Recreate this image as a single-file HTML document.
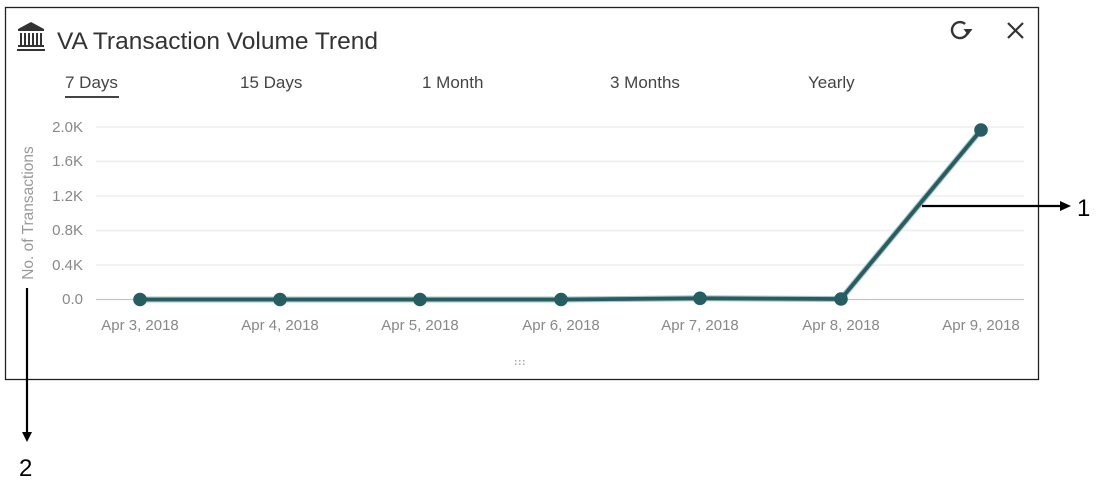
<!DOCTYPE html>
<html><head><meta charset="utf-8"><style>
html,body{margin:0;padding:0;background:#fff;}
body{width:1108px;height:494px;overflow:hidden;position:relative;font-family:"Liberation Sans",sans-serif;}
svg{position:absolute;left:0;top:0;}
</style></head><body>
<svg width="1108" height="494" viewBox="0 0 1108 494" xmlns="http://www.w3.org/2000/svg">
<rect x="5.5" y="7.5" width="1033" height="372" fill="#fff" stroke="#222" stroke-width="1.3"/>
<!-- bank icon -->
<g fill="#333">
<polygon points="31,22 18,29 44,29"/>
<rect x="18" y="29" width="26" height="2"/>
<rect x="20" y="33" width="2" height="12"/>
<rect x="24" y="33" width="2" height="12"/>
<rect x="28" y="33" width="2" height="12"/>
<rect x="32" y="33" width="2" height="12"/>
<rect x="36" y="33" width="2" height="12"/>
<rect x="40" y="33" width="2" height="12"/>
<rect x="18" y="45" width="26" height="2"/>
<rect x="17" y="49" width="28" height="2"/>
</g>
<text x="57" y="49" font-size="24.5" fill="#333">VA Transaction Volume Trend</text>
<!-- refresh -->
<path d="M968 30 A8 8 0 1 1 965.1 23.9" fill="none" stroke="#333" stroke-width="2.4"/>
<polygon points="963.5,29 972.5,29 968,35" fill="#333"/>
<!-- close -->
<path d="M1008 23 L1023 38 M1023 23 L1008 38" stroke="#333" stroke-width="2.2"/>
<!-- tabs -->
<g font-size="17" fill="#444">
<text x="65" y="88">7 Days</text>
<text x="240" y="88">15 Days</text>
<text x="422" y="88">1 Month</text>
<text x="610" y="88">3 Months</text>
<text x="808" y="88">Yearly</text>
</g>
<rect x="65" y="96" width="54" height="2" fill="#444"/>
<!-- gridlines -->
<g stroke="#eceef0" stroke-width="1.5">
<line x1="96" y1="127" x2="1024" y2="127"/>
<line x1="96" y1="161.5" x2="1024" y2="161.5"/>
<line x1="96" y1="196" x2="1024" y2="196"/>
<line x1="96" y1="230.5" x2="1024" y2="230.5"/>
<line x1="96" y1="265" x2="1024" y2="265"/>
</g>
<line x1="96" y1="299.5" x2="1024" y2="299.5" stroke="#c4c4c4" stroke-width="1.3"/>
<!-- y labels -->
<g font-size="15" fill="#888" text-anchor="end">
<text x="83" y="132">2.0K</text>
<text x="83" y="166">1.6K</text>
<text x="83" y="201">1.2K</text>
<text x="83" y="235">0.8K</text>
<text x="83" y="270">0.4K</text>
<text x="83" y="304">0.0</text>
</g>
<text transform="translate(33,213) rotate(-90)" font-size="15.5" fill="#999" text-anchor="middle">No. of Transactions</text>
<!-- x labels -->
<g font-size="15" fill="#888" text-anchor="middle">
<text x="140" y="330">Apr 3, 2018</text>
<text x="280" y="330">Apr 4, 2018</text>
<text x="420" y="330">Apr 5, 2018</text>
<text x="561" y="330">Apr 6, 2018</text>
<text x="700" y="330">Apr 7, 2018</text>
<text x="841" y="330">Apr 8, 2018</text>
<text x="981" y="330">Apr 9, 2018</text>
</g>
<!-- series -->
<polyline points="140,299.5 280,299.5 420,299.5 561,299.5 700,298.3 841,299 981,130" fill="none" stroke="#a9c3c4" stroke-width="6" stroke-linejoin="round"/>
<polyline points="140,299.5 280,299.5 420,299.5 561,299.5 700,298.3 841,299 981,130" fill="none" stroke="#255e62" stroke-width="3.8" stroke-linejoin="round"/>
<g fill="#255e62">
<circle cx="140" cy="299.5" r="6.8"/>
<circle cx="280" cy="299.5" r="6.8"/>
<circle cx="420" cy="299.5" r="6.8"/>
<circle cx="561" cy="299.5" r="6.8"/>
<circle cx="700" cy="298.3" r="6.8"/>
<circle cx="841" cy="299" r="6.8"/>
<circle cx="981" cy="130" r="6.8"/>
</g>
<!-- drag handle -->
<g fill="#aaa">
<rect x="515" y="360" width="1.5" height="1.5"/><rect x="519" y="360" width="1.5" height="1.5"/><rect x="523" y="360" width="1.5" height="1.5"/>
<rect x="515" y="363.5" width="1.5" height="1.5"/><rect x="519" y="363.5" width="1.5" height="1.5"/><rect x="523" y="363.5" width="1.5" height="1.5"/>
</g>
<!-- annotations -->
<line x1="922" y1="206" x2="1062" y2="206" stroke="#000" stroke-width="2.2"/>
<polygon points="1060,201 1071,206 1060,211" fill="#000"/>
<text x="1077" y="216" font-size="24" fill="#000">1</text>
<line x1="27" y1="288" x2="27" y2="433" stroke="#000" stroke-width="2.2"/>
<polygon points="22,432 32,432 27,442" fill="#000"/>
<text x="19" y="476" font-size="24" fill="#000">2</text>
</svg>
</body></html>
